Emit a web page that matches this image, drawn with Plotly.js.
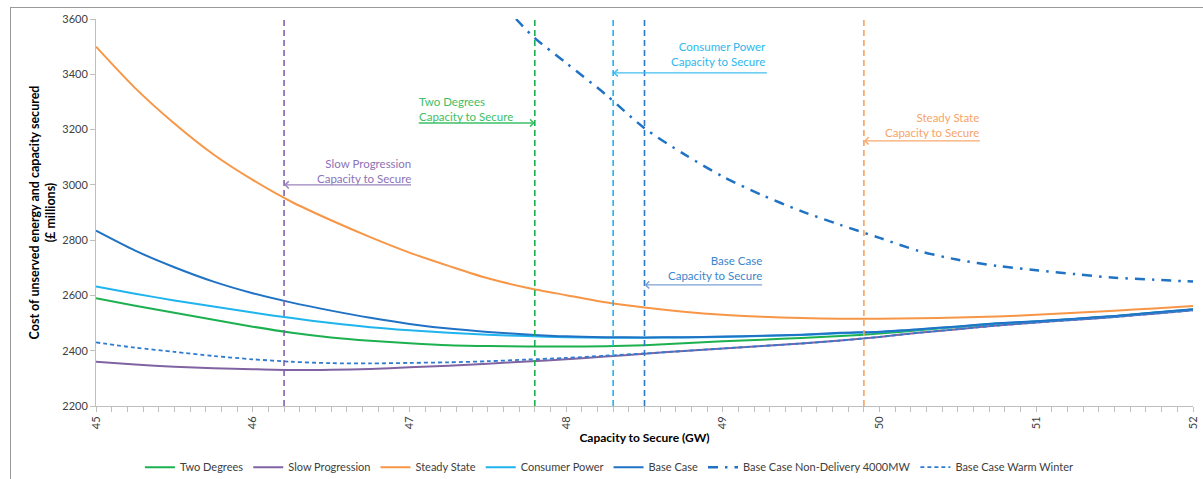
<!DOCTYPE html>
<html>
<head>
<meta charset="utf-8">
<script src="https://cdn.plot.ly/plotly-3.0.1.min.js"></script>
<style>
  html, body { margin: 0; padding: 0; background: #fff; }
  #wrap { position: relative; width: 1203px; height: 479px; overflow: hidden; }
  #chart { width: 1203px; height: 479px; }
  #frame { position: absolute; left: 10px; top: 7px; width: 1200px; height: 480px;
           border: 1px solid #9a9a9a; box-sizing: border-box; pointer-events: none; }
</style>
</head>
<body>
<div id="wrap"><div id="chart"></div><div id="frame"></div></div>
<script>
// ---- data ----
const capacity = [45, 45.25, 45.5, 45.75, 46, 46.25, 46.5, 46.75, 47, 47.25, 47.5, 47.75, 48, 48.25, 48.5,
                  48.75, 49, 49.25, 49.5, 49.75, 50, 50.25, 50.5, 50.75, 51, 51.25, 51.5, 51.75, 52];
const twoDegrees = [2590, 2563, 2537, 2512, 2487, 2465, 2448, 2436, 2427, 2420, 2417, 2415, 2415, 2416, 2420,
                    2427, 2434, 2440, 2446, 2453, 2462, 2474, 2486, 2497, 2506, 2515, 2525, 2537, 2549];
const slowProgression = [2360, 2350, 2342, 2337, 2333, 2330, 2331, 2334, 2340, 2346, 2353, 2361, 2369, 2379, 2389,
                         2399, 2408, 2417, 2426, 2437, 2450, 2465, 2478, 2491, 2502, 2512, 2522, 2534, 2546];
const steadyState = [3500, 3350, 3222, 3110, 3018, 2938, 2872, 2811, 2755, 2707, 2662, 2628, 2601, 2575, 2556,
                     2541, 2530, 2523, 2518, 2516, 2516, 2517, 2520, 2524, 2530, 2537, 2545, 2553, 2562];
const consumerPower = [2632, 2606, 2582, 2560, 2538, 2518, 2500, 2485, 2474, 2465, 2458, 2453, 2449, 2447, 2447,
                       2448, 2450, 2453, 2457, 2463, 2468, 2477, 2487, 2498, 2506, 2515, 2525, 2537, 2549];
const baseCase = [2834, 2762, 2702, 2650, 2608, 2574, 2545, 2519, 2497, 2480, 2468, 2459, 2452, 2449, 2448,
                  2449, 2451, 2454, 2458, 2465, 2469, 2478, 2488, 2499, 2507, 2516, 2526, 2538, 2550];
const warmWinter = [2430, 2411, 2396, 2381, 2369, 2360, 2355, 2354, 2356, 2358, 2362, 2368, 2374, 2382, 2390,
                    2399, 2408, 2417, 2426, 2437, 2450, 2465, 2478, 2491, 2502, 2512, 2522, 2534, 2546];
const nonDeliveryCapacity = [47.68, 47.8, 48, 48.25, 48.5, 48.75, 49, 49.25, 49.5, 49.75, 50, 50.25, 50.5, 50.75,
                             51, 51.25, 51.5, 51.75, 52];
const nonDelivery = [3600, 3531, 3441, 3328, 3205, 3112, 3030, 2963, 2905, 2855, 2808, 2761, 2729, 2707,
                     2691, 2677, 2664, 2657, 2650];

// capacity-to-secure markers
const markerNames = ['Slow Progression', 'Two Degrees', 'Consumer Power', 'Base Case', 'Steady State'];
const markerCapacity = [46.2, 47.8, 48.3, 48.5, 49.9];
const labelCapacity = [47.02, 47.05, 49.29, 49.26, 50.65];
const arrowLevel = [3000, 3224, 3405, 2638, 3159];
const labelLevel = [3050, 3276, 3472, 2701, 3215];

const tickVals = [45, 46, 47, 48, 49, 50, 51, 52];
const tickText = ['45', '46', '47', '48', '49', '50', '51', '52'];

// ---- styles ----
const FONT = 'Lato, "Open Sans", sans-serif';
const cGreen = '#1DB050', cPurple = '#8064A2', cOrange = '#F79646', cLight = '#1FB4EE', cBlue = '#1F72C4';
const markerLineColor = ['#8462B0', '#1DB050', '#1FB4EE', '#2E78C8', '#F7A262'];
const markerTextColor = ['#8C72B6', '#3DC066', '#2DB8EE', '#3A86CC', '#F7A466'];
const markerArrowColor = ['#9A84C0', '#3DC066', '#40BFF0', '#7FA2D4', '#F7AA70'];
const markerAlign = ['right', 'left', 'right', 'right', 'right'];

const traces = [
  {name: 'Two Degrees', x: capacity, y: twoDegrees, line: {color: cGreen, width: 2}},
  {name: 'Slow Progression', x: capacity, y: slowProgression, line: {color: cPurple, width: 2}},
  {name: 'Steady State', x: capacity, y: steadyState, line: {color: cOrange, width: 2}},
  {name: 'Consumer Power', x: capacity, y: consumerPower, line: {color: cLight, width: 2}},
  {name: 'Base Case', x: capacity, y: baseCase, line: {color: cBlue, width: 2}},
  {name: 'Base Case Non-Delivery 4000MW', x: nonDeliveryCapacity, y: nonDelivery,
   line: {color: cBlue, width: 2.5, dash: '10px,7px,2.5px,7px'}},
  {name: 'Base Case Warm Winter', x: capacity, y: warmWinter, line: {color: '#2E7BD0', width: 1.8, dash: '4px,3px'}}
].map(t => Object.assign({type: 'scatter', mode: 'lines', hoverinfo: 'x+y+name'}, t));
traces.forEach(t => { t.line.shape = 'spline'; t.line.smoothing = 0.8; });

const shapes = [];
const annotations = [];
markerNames.forEach((n, i) => {
  shapes.push({type: 'line', xref: 'x', yref: 'paper', x0: markerCapacity[i], x1: markerCapacity[i], y0: 0, y1: 1,
               line: {color: markerLineColor[i], width: 1.6, dash: '6px,4px'}});
  annotations.push({x: labelCapacity[i], y: labelLevel[i], xref: 'x', yref: 'y',
    text: n + '<br>Capacity to Secure', showarrow: false,
    xanchor: markerAlign[i], yanchor: 'middle', align: markerAlign[i],
    font: {family: FONT, size: 11.5, color: markerTextColor[i]}});
  annotations.push({x: markerCapacity[i], y: arrowLevel[i], xref: 'x', yref: 'y',
    ax: labelCapacity[i], ay: arrowLevel[i], axref: 'x', ayref: 'y',
    text: '', showarrow: true, arrowhead: 4, arrowsize: 1, arrowwidth: 1.4,
    arrowcolor: markerArrowColor[i], standoff: 0, startstandoff: 0});
});

const layout = {
  width: 1203, height: 479,
  margin: {l: 96, r: 10, t: 19, b: 73, autoexpand: false},
  paper_bgcolor: '#fff', plot_bgcolor: '#fff',
  font: {family: FONT, size: 11, color: '#404040'},
  showlegend: true,
  legend: {orientation: 'h', x: 0.468, xanchor: 'center', y: -0.158, yanchor: 'middle',
           font: {family: FONT, size: 11, color: '#404040'}, tracegroupgap: 0},
  xaxis: {
    range: [45, 52], tickmode: 'array', tickvals: tickVals, ticktext: tickText,
    tickangle: -90, ticks: 'outside', ticklen: 5, tickcolor: '#BFBFBF',
    showline: true, linecolor: '#BFBFBF', linewidth: 1, showgrid: false, zeroline: false,
    tickfont: {family: FONT, size: 11, color: '#404040'},
    minor: {dtick: 0.1, tick0: 45, ticks: 'outside', ticklen: 5, tickcolor: '#BFBFBF', showgrid: false},
    title: {text: '<b>Capacity to Secure (GW)</b>', standoff: 5, font: {family: FONT, size: 12, color: '#000'}}
  },
  yaxis: {
    range: [2200, 3600], dtick: 200, tick0: 2200,
    ticks: 'outside', ticklen: 5, tickcolor: '#BFBFBF',
    showline: true, linecolor: '#BFBFBF', linewidth: 1, showgrid: false, zeroline: false,
    tickfont: {family: FONT, size: 11, color: '#404040'},
    title: {text: '<b>Cost of unserved energy and capacity secured<br>(£ millions)</b>', standoff: 3,
            font: {family: FONT, size: 12.5, color: '#000'}}
  },
  shapes: shapes,
  annotations: annotations
};

Plotly.newPlot('chart', traces, layout, {displayModeBar: false, staticPlot: true});
</script>
</body>
</html>
